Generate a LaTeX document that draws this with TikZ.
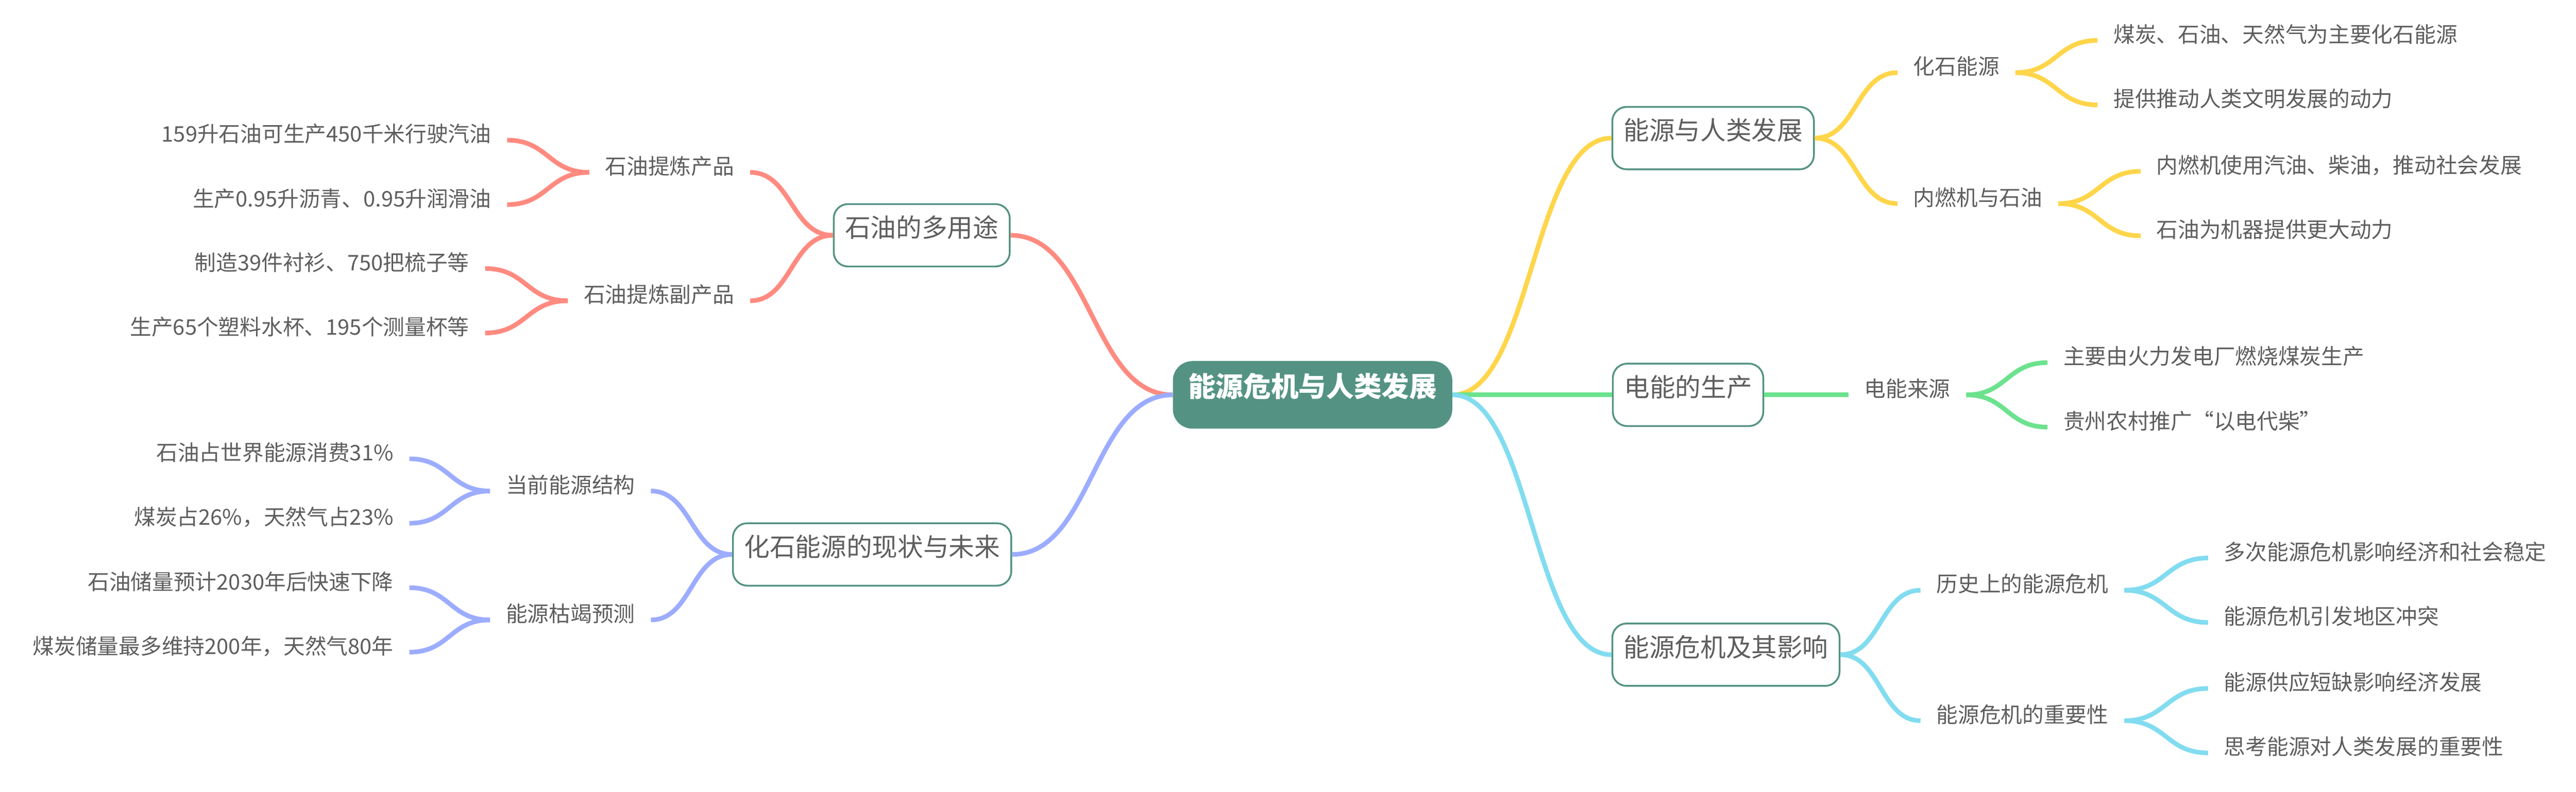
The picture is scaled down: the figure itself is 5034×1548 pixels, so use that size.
\documentclass[tikz,border=0pt]{standalone}
\usepackage{fontspec}
\setmainfont{Noto Sans CJK SC}
\usetikzlibrary{calc}
\definecolor{teal1}{RGB}{84,147,131}
\definecolor{txt}{RGB}{94,94,94}
\definecolor{cred}{RGB}{255,138,128}
\definecolor{cblue}{RGB}{156,172,255}
\definecolor{cyel}{RGB}{255,213,74}
\definecolor{cgreen}{RGB}{108,226,142}
\definecolor{ccyan}{RGB}{130,220,240}
\tikzset{
  rootbox/.style={draw=none, fill=teal1, rounded corners=38pt, minimum height=132pt,
    minimum width=546pt, inner xsep=0pt, inner ysep=0pt, text=white,
    font=\fontsize{54}{62}\selectfont\bfseries, text height=0.88em, text depth=0.12em},
  mainbox/.style={draw=teal1, line width=3.5pt, fill=white, rounded corners=28pt,
    minimum height=122pt, inner xsep=22pt, inner ysep=0pt, text=txt,
    font=\fontsize{50}{60}\selectfont, text height=0.88em, text depth=0.12em},
  subtext/.style={inner xsep=31pt, inner ysep=0pt, text=txt,
    font=\fontsize{42}{50}\selectfont, text height=0.88em, text depth=0.12em},
  leaftext/.style={subtext},
  hcurve/.style={to path={let \p1=(\tikztostart), \p2=(\tikztotarget) in
    .. controls ({0.5*\x1+0.5*\x2},\y1) and ({0.5*\x1+0.5*\x2},\y2) .. (\tikztotarget)}},
  conn/.style={line width=9pt, hcurve},
}
\begin{document}
\begin{tikzpicture}[x=1pt, y=-1pt]
\useasboundingbox (0,0) rectangle (5034,1548);
\fill[white] (0,0) rectangle (5034,1548);

% root and main topics
\node[rootbox] (root) at (2565,772) {能源危机与人类发展};
\node[mainbox, anchor=west] (A) at (3149,270) {能源与人类发展};
\node[mainbox, anchor=west] (B) at (3150,772) {电能的生产};
\node[mainbox, anchor=west] (C) at (3149,1280) {能源危机及其影响};
\node[mainbox, anchor=east] (D) at (1975,460) {石油的多用途};
\node[mainbox, anchor=east] (E) at (1978,1084) {化石能源的现状与未来};

% subtopics
\node[subtext, anchor=west] (A1) at (3708,142) {化石能源};
\node[subtext, anchor=west] (A2) at (3708,398) {内燃机与石油};
\node[subtext, anchor=west] (B1) at (3612,772) {电能来源};
\node[subtext, anchor=west] (C1) at (3753,1154) {历史上的能源危机};
\node[subtext, anchor=west] (C2) at (3753,1409) {能源危机的重要性};
\node[subtext, anchor=east] (D1) at (1466,337) {石油提炼产品};
\node[subtext, anchor=east] (D2) at (1466,588) {石油提炼副产品};
\node[subtext, anchor=east] (E1) at (1272,960) {当前能源结构};
\node[subtext, anchor=east] (E2) at (1272,1212) {能源枯竭预测};

% leaves
\node[leaftext, anchor=west] (A11) at (4099,79) {煤炭、石油、天然气为主要化石能源};
\node[leaftext, anchor=west] (A12) at (4099,205) {提供推动人类文明发展的动力};
\node[leaftext, anchor=west] (A21) at (4183,335) {内燃机使用汽油、柴油，推动社会发展};
\node[leaftext, anchor=west] (A22) at (4183,461) {石油为机器提供更大动力};
\node[leaftext, anchor=west] (B11) at (4001,709) {主要由火力发电厂燃烧煤炭生产};
\node[leaftext, anchor=west] (B12) at (4001,835) {贵州农村推广“以电代柴”};
\node[leaftext, anchor=west] (C11) at (4315,1091) {多次能源危机影响经济和社会稳定};
\node[leaftext, anchor=west] (C12) at (4315,1217) {能源危机引发地区冲突};
\node[leaftext, anchor=west] (C21) at (4315,1346) {能源供应短缺影响经济发展};
\node[leaftext, anchor=west] (C22) at (4315,1472) {思考能源对人类发展的重要性};
\node[leaftext, anchor=east] (D11) at (991,274) {159升石油可生产450千米行驶汽油};
\node[leaftext, anchor=east] (D12) at (991,400) {生产0.95升沥青、0.95升润滑油};
\node[leaftext, anchor=east] (D21) at (948,525) {制造39件衬衫、750把梳子等};
\node[leaftext, anchor=east] (D22) at (948,651) {生产65个塑料水杯、195个测量杯等};
\node[leaftext, anchor=east] (E11) at (800,897) {石油占世界能源消费31\%};
\node[leaftext, anchor=east] (E12) at (800,1023) {煤炭占26\%，天然气占23\%};
\node[leaftext, anchor=east] (E21) at (800,1149) {石油储量预计2030年后快速下降};
\node[leaftext, anchor=east] (E22) at (800,1275) {煤炭储量最多维持200年，天然气80年};

% connectors: root to main topics
\draw[conn, cyel] (root.east) to (A.west);
\draw[conn, cgreen] (root.east) to (B.west);
\draw[conn, ccyan] (root.east) to (C.west);
\draw[conn, cred] (root.west) to (D.east);
\draw[conn, cblue] (root.west) to (E.east);

% main topics to subtopics
\draw[conn, cyel] (A.east) to (A1.west);
\draw[conn, cyel] (A.east) to (A2.west);
\draw[conn, cgreen] (B.east) to (B1.west);
\draw[conn, ccyan] (C.east) to (C1.west);
\draw[conn, ccyan] (C.east) to (C2.west);
\draw[conn, cred] (D.west) to (D1.east);
\draw[conn, cred] (D.west) to (D2.east);
\draw[conn, cblue] (E.west) to (E1.east);
\draw[conn, cblue] (E.west) to (E2.east);

% subtopics to leaves
\draw[conn, cyel] (A1.east) to (A11.west);
\draw[conn, cyel] (A1.east) to (A12.west);
\draw[conn, cyel] (A2.east) to (A21.west);
\draw[conn, cyel] (A2.east) to (A22.west);
\draw[conn, cgreen] (B1.east) to (B11.west);
\draw[conn, cgreen] (B1.east) to (B12.west);
\draw[conn, ccyan] (C1.east) to (C11.west);
\draw[conn, ccyan] (C1.east) to (C12.west);
\draw[conn, ccyan] (C2.east) to (C21.west);
\draw[conn, ccyan] (C2.east) to (C22.west);
\draw[conn, cred] (D1.west) to (D11.east);
\draw[conn, cred] (D1.west) to (D12.east);
\draw[conn, cred] (D2.west) to (D21.east);
\draw[conn, cred] (D2.west) to (D22.east);
\draw[conn, cblue] (E1.west) to (E11.east);
\draw[conn, cblue] (E1.west) to (E12.east);
\draw[conn, cblue] (E2.west) to (E21.east);
\draw[conn, cblue] (E2.west) to (E22.east);
\end{tikzpicture}
\end{document}
